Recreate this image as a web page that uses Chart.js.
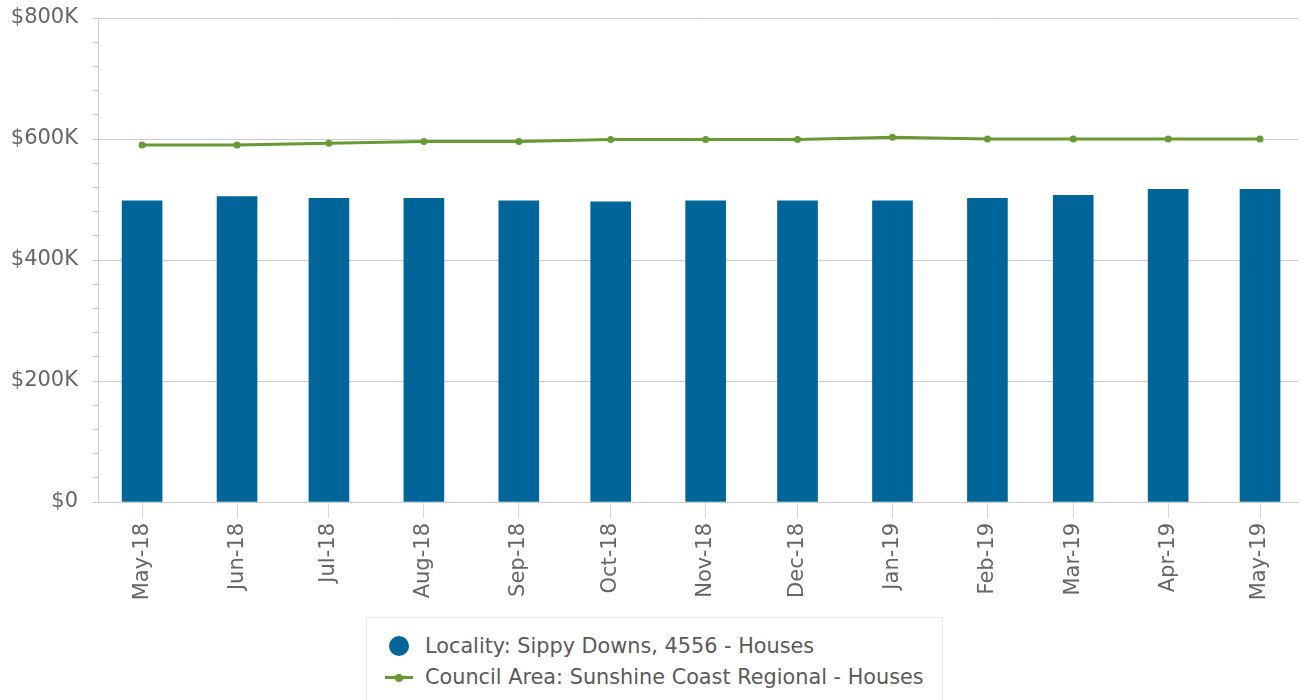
<!DOCTYPE html>
<html>
<head>
<meta charset="utf-8">
<script src="https://cdn.jsdelivr.net/npm/chart.js@4"></script>
<style>
  html, body { margin: 0; padding: 0; background: #ffffff; }
  body { width: 1302px; height: 700px; overflow: hidden; position: relative; font-family: "DejaVu Sans", sans-serif; }
  #wrap { position: absolute; left: 0; top: 0; width: 1302px; height: 612px; }
  #legend { position: absolute; left: 366px; top: 617px; width: 577px; height: 100px; border: 1px solid #e8e8e8; box-sizing: border-box; }
  .item { position: absolute; left: 0; font-size: 20.8px; color: #5a5a5a; white-space: nowrap; line-height: 24px; }
  .dot { position: absolute; left: 22px; top: 2px; width: 20px; height: 20px; border-radius: 50%; background: #006699; }
  .ln { position: absolute; left: 18px; top: 11px; width: 28px; height: 3px; background: #689a33; }
  .ln::after { content: ""; position: absolute; left: 10px; top: -2.5px; width: 8px; height: 8px; border-radius: 50%; background: #689a33; }
  .txt { position: absolute; left: 58px; top: 0; }
</style>
</head>
<body>
<div id="wrap"><canvas id="c"></canvas></div>
<div id="legend">
  <div class="item" style="top:16px"><span class="dot"></span><span class="txt" id="l1"></span></div>
  <div class="item" style="top:47px"><span class="ln"></span><span class="txt" id="l2"></span></div>
</div>
<script>
const categories = ['May-18','Jun-18','Jul-18','Aug-18','Sep-18','Oct-18','Nov-18','Dec-18','Jan-19','Feb-19','Mar-19','Apr-19','May-19'];
const monthStarts = ['2018-05-01','2018-06-01','2018-07-01','2018-08-01','2018-09-01','2018-10-01','2018-11-01','2018-12-01','2019-01-01','2019-02-01','2019-03-01','2019-04-01','2019-05-01'];
const localityName = 'Locality: Sippy Downs, 4556 - Houses';
const councilName = 'Council Area: Sunshine Coast Regional - Houses';
const localityValues = [498000, 505000, 502000, 502000, 498000, 496000, 498000, 498000, 498000, 502000, 507000, 517000, 517000];
const councilValues = [590000, 590000, 593000, 596000, 596000, 599000, 599000, 599000, 603000, 600000, 600000, 600000, 600000];
const yTickValues = [0, 200000, 400000, 600000, 800000];

document.getElementById('l1').textContent = localityName;
document.getElementById('l2').textContent = councilName;

const DAY = 86400000;
const base = Date.parse(monthStarts[0]);
const xDays = monthStarts.map(s => (Date.parse(s) - base) / DAY);
const padBefore = 14.4;
const padAfter = 12.4;

const canvas = document.getElementById('c');
canvas.width = 1302; canvas.height = 612;
canvas.style.width = '1302px'; canvas.style.height = '612px';

new Chart(canvas, {
  data: {
    datasets: [
      {
        type: 'line',
        label: councilName,
        data: xDays.map((x, i) => ({ x: x, y: councilValues[i] })),
        borderColor: '#689a33',
        backgroundColor: '#689a33',
        borderWidth: 3,
        pointRadius: 3.5,
        pointBackgroundColor: '#689a33',
        pointBorderWidth: 0,
        tension: 0,
        order: 1
      },
      {
        type: 'bar',
        label: localityName,
        data: xDays.map((x, i) => ({ x: x, y: localityValues[i] })),
        backgroundColor: '#006699',
        barThickness: 40,
        order: 2
      }
    ]
  },
  options: {
    responsive: false,
    animation: false,
    devicePixelRatio: 1,
    layout: { padding: { top: 18, right: 0, left: 0, bottom: 0 } },
    plugins: { legend: { display: false }, tooltip: { enabled: false } },
    scales: {
      x: {
        type: 'linear',
        offset: false,
        min: xDays[0] - padBefore,
        max: xDays[xDays.length - 1] + padAfter,
        afterBuildTicks: (scale) => { scale.ticks = xDays.map(v => ({ value: v })); },
        afterFit: (scale) => { scale.height = 110; },
        ticks: {
          autoSkip: false,
          minRotation: 90,
          maxRotation: 90,
          padding: 5,
          color: '#666666',
          font: { family: 'DejaVu Sans', size: 21 },
          callback: (v, i) => categories[i]
        },
        grid: { offset: false, drawOnChartArea: false, tickLength: 16, tickColor: '#ccd6eb', tickWidth: 1 },
        border: { color: '#cccccc', width: 1 }
      },
      y: {
        min: yTickValues[0],
        max: yTickValues[yTickValues.length - 1],
        afterFit: (scale) => { scale.width = 98; scale.paddingTop = 0; scale.paddingBottom = 0; },
        ticks: {
          autoSkip: false,
          stepSize: (yTickValues[1] - yTickValues[0]) / 5,
          padding: 14,
          color: '#666666',
          font: { family: 'DejaVu Sans', size: 21 },
          callback: (v) => yTickValues.includes(v) ? (v === 0 ? '$0' : '$' + (v / 1000) + 'K') : ''
        },
        grid: {
          color: (ctx) => (ctx.tick && yTickValues.includes(ctx.tick.value)) ? '#cccccc' : 'rgba(0,0,0,0)',
          tickColor: '#cccccc',
          tickLength: 6,
          lineWidth: 1
        },
        border: { color: '#cccccc', width: 1 }
      }
    }
  }
});
</script>
</body>
</html>
